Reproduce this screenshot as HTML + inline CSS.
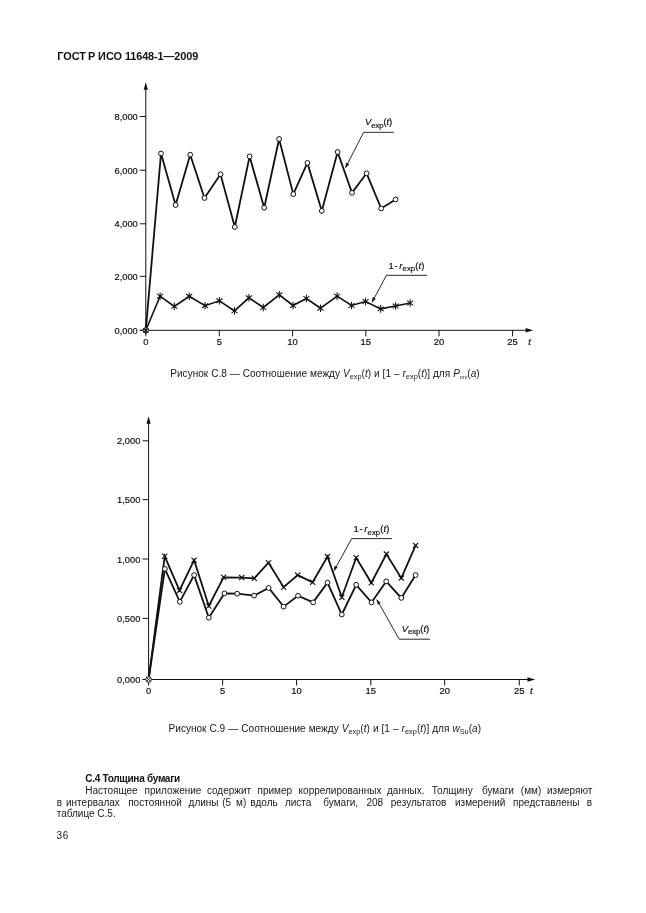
<!DOCTYPE html>
<html><head><meta charset="utf-8"><title>ГОСТ Р ИСО 11648-1—2009</title>
<style>
html,body{margin:0;padding:0;background:#fff;}
body{filter:grayscale(1);}
body{width:646px;height:913px;position:relative;overflow:hidden;font-family:"Liberation Sans",sans-serif;color:#1a1a1a;}
svg{position:absolute;left:0;top:0;}
.t{font-family:"Liberation Sans",sans-serif;font-size:9.6px;fill:#111;stroke:#111;stroke-width:0.2px;}
.i{font-style:italic;}
.s{font-size:7.8px;}
.lb{font-size:9.5px;}
.yl{font-size:9.6px;}
.abs{position:absolute;white-space:nowrap;}
.hdr span{position:absolute;top:0}
.hdr{left:57.2px;top:50.0px;width:200px;height:13px;font-size:10.9px;font-weight:bold;line-height:13px;color:#111;}
.cap{font-size:10.05px;line-height:12px;word-spacing:0.25px;}
.cap sub,.cap .sb{font-size:7.4px;vertical-align:baseline;position:relative;top:2px;}
.cap i{font-style:italic;}
.h4{left:85.2px;top:772.9px;font-size:10px;font-weight:bold;line-height:12px;letter-spacing:-0.27px;color:#111;}
.ln{position:absolute;left:0;width:646px;height:12px;font-size:10px;line-height:12px;white-space:nowrap;}
.ln span{position:absolute;top:0;}
.pn{left:56.6px;top:830.2px;font-size:10px;line-height:12px;letter-spacing:0.6px;}
</style></head><body>
<div class="abs hdr"><span style="left:0">ГОСТ</span><span style="left:30.8px">Р</span><span style="left:40.9px">ИСО</span><span style="left:67.7px;letter-spacing:-0.1px">11648-1—2009</span></div>
<svg width="646" height="913" viewBox="0 0 646 913">
<path d="M145.8 330.3V88" stroke="#111" stroke-width="1.0" fill="none"/>
<path d="M145.8 82.3l-2.1 7.4h4.2z" fill="#111"/>
<path d="M139.8 330.3H527" stroke="#111" stroke-width="1.0" fill="none"/>
<path d="M533.2 330.3l-7.6 -2.2v4.4z" fill="#111"/>
<path d="M139.8 116.5H145.8" stroke="#111" stroke-width="1.0" fill="none"/>
<text x="137.8" y="120.1" text-anchor="end" class="t yl" textLength="23.3" lengthAdjust="spacingAndGlyphs">8,000</text>
<path d="M139.8 170.2H145.8" stroke="#111" stroke-width="1.0" fill="none"/>
<text x="137.8" y="173.8" text-anchor="end" class="t yl" textLength="23.3" lengthAdjust="spacingAndGlyphs">6,000</text>
<path d="M139.8 223.8H145.8" stroke="#111" stroke-width="1.0" fill="none"/>
<text x="137.8" y="227.4" text-anchor="end" class="t yl" textLength="23.3" lengthAdjust="spacingAndGlyphs">4,000</text>
<path d="M139.8 276.3H145.8" stroke="#111" stroke-width="1.0" fill="none"/>
<text x="137.8" y="279.9" text-anchor="end" class="t yl" textLength="23.3" lengthAdjust="spacingAndGlyphs">2,000</text>
<path d="M139.8 330.3H145.8" stroke="#111" stroke-width="1.0" fill="none"/>
<text x="137.8" y="333.9" text-anchor="end" class="t yl" textLength="23.3" lengthAdjust="spacingAndGlyphs">0,000</text>
<path d="M145.8 330.3V336.3" stroke="#111" stroke-width="1.0" fill="none"/>
<text x="145.8" y="345.0" text-anchor="middle" class="t yl" textLength="5.2" lengthAdjust="spacingAndGlyphs">0</text>
<path d="M219.3 330.3V336.3" stroke="#111" stroke-width="1.0" fill="none"/>
<text x="219.3" y="345.0" text-anchor="middle" class="t yl" textLength="5.2" lengthAdjust="spacingAndGlyphs">5</text>
<path d="M292.6 330.3V336.3" stroke="#111" stroke-width="1.0" fill="none"/>
<text x="292.6" y="345.0" text-anchor="middle" class="t yl" textLength="10.5" lengthAdjust="spacingAndGlyphs">10</text>
<path d="M365.8 330.3V336.3" stroke="#111" stroke-width="1.0" fill="none"/>
<text x="365.8" y="345.0" text-anchor="middle" class="t yl" textLength="10.5" lengthAdjust="spacingAndGlyphs">15</text>
<path d="M439.0 330.3V336.3" stroke="#111" stroke-width="1.0" fill="none"/>
<text x="439.0" y="345.0" text-anchor="middle" class="t yl" textLength="10.5" lengthAdjust="spacingAndGlyphs">20</text>
<path d="M512.6 330.3V336.3" stroke="#111" stroke-width="1.0" fill="none"/>
<text x="512.6" y="345.0" text-anchor="middle" class="t yl" textLength="10.5" lengthAdjust="spacingAndGlyphs">25</text>
<text x="529.5" y="345.2" text-anchor="middle" class="t yl i">t</text>
<polyline fill="none" stroke="#111" stroke-width="1.8" stroke-linejoin="miter" points="145.8,330.3 161.0,153.5 175.6,205.0 190.2,154.7 204.5,198.0 220.5,174.3 234.8,227.0 249.6,156.4 264.2,207.7 279.1,139.0 293.3,194.1 307.4,162.9 321.8,210.9 337.6,152.0 352.0,192.8 366.6,173.3 381.2,208.5 395.6,199.5"/>
<circle cx="161.0" cy="153.5" r="2.4" fill="#fff" stroke="#111" stroke-width="1"/><circle cx="175.6" cy="205.0" r="2.4" fill="#fff" stroke="#111" stroke-width="1"/><circle cx="190.2" cy="154.7" r="2.4" fill="#fff" stroke="#111" stroke-width="1"/><circle cx="204.5" cy="198.0" r="2.4" fill="#fff" stroke="#111" stroke-width="1"/><circle cx="220.5" cy="174.3" r="2.4" fill="#fff" stroke="#111" stroke-width="1"/><circle cx="234.8" cy="227.0" r="2.4" fill="#fff" stroke="#111" stroke-width="1"/><circle cx="249.6" cy="156.4" r="2.4" fill="#fff" stroke="#111" stroke-width="1"/><circle cx="264.2" cy="207.7" r="2.4" fill="#fff" stroke="#111" stroke-width="1"/><circle cx="279.1" cy="139.0" r="2.4" fill="#fff" stroke="#111" stroke-width="1"/><circle cx="293.3" cy="194.1" r="2.4" fill="#fff" stroke="#111" stroke-width="1"/><circle cx="307.4" cy="162.9" r="2.4" fill="#fff" stroke="#111" stroke-width="1"/><circle cx="321.8" cy="210.9" r="2.4" fill="#fff" stroke="#111" stroke-width="1"/><circle cx="337.6" cy="152.0" r="2.4" fill="#fff" stroke="#111" stroke-width="1"/><circle cx="352.0" cy="192.8" r="2.4" fill="#fff" stroke="#111" stroke-width="1"/><circle cx="366.6" cy="173.3" r="2.4" fill="#fff" stroke="#111" stroke-width="1"/><circle cx="381.2" cy="208.5" r="2.4" fill="#fff" stroke="#111" stroke-width="1"/><circle cx="395.6" cy="199.5" r="2.4" fill="#fff" stroke="#111" stroke-width="1"/>
<polyline fill="none" stroke="#111" stroke-width="1.6" stroke-linejoin="miter" points="145.8,330.3 160.1,296.2 174.3,306.4 189.2,296.3 205.0,305.7 219.4,300.8 234.5,310.9 248.9,297.8 263.3,307.5 279.3,294.8 293.0,305.5 306.4,298.5 320.5,308.2 337.1,296.1 351.5,305.5 365.6,301.5 380.7,308.9 395.6,306.0 410.2,303.0"/>
<circle cx="145.8" cy="330.3" r="2.7" fill="#fff" stroke="#111" stroke-width="1"/>
<path d="M145.8 326.9V333.7M143.1 328.3L148.5 332.3M143.1 332.3L148.5 328.3" stroke="#111" stroke-width="1.05" fill="none"/>
<path d="M160.1 292.4V300.0M157.1 293.9L163.1 298.5M157.1 298.5L163.1 293.9" stroke="#111" stroke-width="1.05" fill="none"/><path d="M174.3 302.6V310.2M171.3 304.1L177.3 308.7M171.3 308.7L177.3 304.1" stroke="#111" stroke-width="1.05" fill="none"/><path d="M189.2 292.5V300.1M186.2 294.0L192.2 298.6M186.2 298.6L192.2 294.0" stroke="#111" stroke-width="1.05" fill="none"/><path d="M205.0 301.9V309.5M202.0 303.4L208.0 308.0M202.0 308.0L208.0 303.4" stroke="#111" stroke-width="1.05" fill="none"/><path d="M219.4 297.0V304.6M216.4 298.5L222.4 303.1M216.4 303.1L222.4 298.5" stroke="#111" stroke-width="1.05" fill="none"/><path d="M234.5 307.1V314.7M231.5 308.6L237.5 313.2M231.5 313.2L237.5 308.6" stroke="#111" stroke-width="1.05" fill="none"/><path d="M248.9 294.0V301.6M245.9 295.5L251.9 300.1M245.9 300.1L251.9 295.5" stroke="#111" stroke-width="1.05" fill="none"/><path d="M263.3 303.7V311.3M260.3 305.2L266.3 309.8M260.3 309.8L266.3 305.2" stroke="#111" stroke-width="1.05" fill="none"/><path d="M279.3 291.0V298.6M276.3 292.5L282.3 297.1M276.3 297.1L282.3 292.5" stroke="#111" stroke-width="1.05" fill="none"/><path d="M293.0 301.7V309.3M290.0 303.2L296.0 307.8M290.0 307.8L296.0 303.2" stroke="#111" stroke-width="1.05" fill="none"/><path d="M306.4 294.7V302.3M303.4 296.2L309.4 300.8M303.4 300.8L309.4 296.2" stroke="#111" stroke-width="1.05" fill="none"/><path d="M320.5 304.4V312.0M317.5 305.9L323.5 310.5M317.5 310.5L323.5 305.9" stroke="#111" stroke-width="1.05" fill="none"/><path d="M337.1 292.3V299.9M334.1 293.8L340.1 298.4M334.1 298.4L340.1 293.8" stroke="#111" stroke-width="1.05" fill="none"/><path d="M351.5 301.7V309.3M348.5 303.2L354.5 307.8M348.5 307.8L354.5 303.2" stroke="#111" stroke-width="1.05" fill="none"/><path d="M365.6 297.7V305.3M362.6 299.2L368.6 303.8M362.6 303.8L368.6 299.2" stroke="#111" stroke-width="1.05" fill="none"/><path d="M380.7 305.1V312.7M377.7 306.6L383.7 311.2M377.7 311.2L383.7 306.6" stroke="#111" stroke-width="1.05" fill="none"/><path d="M395.6 302.2V309.8M392.6 303.7L398.6 308.3M392.6 308.3L398.6 303.7" stroke="#111" stroke-width="1.05" fill="none"/><path d="M410.2 299.2V306.8M407.2 300.7L413.2 305.3M407.2 305.3L413.2 300.7" stroke="#111" stroke-width="1.05" fill="none"/>
<path d="M393.8 132.3H363.6L345.8 167.2" stroke="#111" stroke-width="0.9" fill="none"/>
<path d="M345.2 168.4l0.9 -5.6 3 1.5z" fill="#111"/>
<text x="364.9" y="125.4" class="t lb" textLength="27.3"><tspan class="i">V</tspan><tspan class="s" dy="2.6">exp</tspan><tspan dy="-2.6">(</tspan><tspan class="i">t</tspan>)</text>
<path d="M427 275.3H386.4L372.5 301.4" stroke="#111" stroke-width="0.9" fill="none"/>
<path d="M371.7 302.9l1 -5.8 3 1.6z" fill="#111"/>
<text x="388.6" y="268.7" class="t lb" textLength="35.8">1<tspan dx="0.5">-</tspan><tspan class="i" dx="1.5">r</tspan><tspan class="s" dy="2.6">exp</tspan><tspan dy="-2.6">(</tspan><tspan class="i">t</tspan>)</text>
<path d="M148.6 679.5V422" stroke="#111" stroke-width="1.0" fill="none"/>
<path d="M148.6 416.3l-2.1 7.4h4.2z" fill="#111"/>
<path d="M142.6 679.5H528" stroke="#111" stroke-width="1.0" fill="none"/>
<path d="M535.3 679.5l-7.8 -2.2v4.4z" fill="#111"/>
<path d="M142.6 440.8H148.6" stroke="#111" stroke-width="1.0" fill="none"/>
<text x="140.4" y="444.4" text-anchor="end" class="t yl" textLength="23.3" lengthAdjust="spacingAndGlyphs">2,000</text>
<path d="M142.6 499.6H148.6" stroke="#111" stroke-width="1.0" fill="none"/>
<text x="140.4" y="503.2" text-anchor="end" class="t yl" textLength="23.3" lengthAdjust="spacingAndGlyphs">1,500</text>
<path d="M142.6 559.0H148.6" stroke="#111" stroke-width="1.0" fill="none"/>
<text x="140.4" y="562.6" text-anchor="end" class="t yl" textLength="23.3" lengthAdjust="spacingAndGlyphs">1,000</text>
<path d="M142.6 618.4H148.6" stroke="#111" stroke-width="1.0" fill="none"/>
<text x="140.4" y="622.0" text-anchor="end" class="t yl" textLength="23.3" lengthAdjust="spacingAndGlyphs">0,500</text>
<path d="M142.6 679.5H148.6" stroke="#111" stroke-width="1.0" fill="none"/>
<text x="140.4" y="683.1" text-anchor="end" class="t yl" textLength="23.3" lengthAdjust="spacingAndGlyphs">0,000</text>
<path d="M148.6 679.5V685.5" stroke="#111" stroke-width="1.0" fill="none"/>
<text x="148.6" y="694.0" text-anchor="middle" class="t yl" textLength="5.2" lengthAdjust="spacingAndGlyphs">0</text>
<path d="M222.6 679.5V685.5" stroke="#111" stroke-width="1.0" fill="none"/>
<text x="222.6" y="694.0" text-anchor="middle" class="t yl" textLength="5.2" lengthAdjust="spacingAndGlyphs">5</text>
<path d="M296.6 679.5V685.5" stroke="#111" stroke-width="1.0" fill="none"/>
<text x="296.6" y="694.0" text-anchor="middle" class="t yl" textLength="10.5" lengthAdjust="spacingAndGlyphs">10</text>
<path d="M370.8 679.5V685.5" stroke="#111" stroke-width="1.0" fill="none"/>
<text x="370.8" y="694.0" text-anchor="middle" class="t yl" textLength="10.5" lengthAdjust="spacingAndGlyphs">15</text>
<path d="M444.7 679.5V685.5" stroke="#111" stroke-width="1.0" fill="none"/>
<text x="444.7" y="694.0" text-anchor="middle" class="t yl" textLength="10.5" lengthAdjust="spacingAndGlyphs">20</text>
<path d="M519.3 679.5V685.5" stroke="#111" stroke-width="1.0" fill="none"/>
<text x="519.3" y="694.0" text-anchor="middle" class="t yl" textLength="10.5" lengthAdjust="spacingAndGlyphs">25</text>
<text x="531.4" y="694.2" text-anchor="middle" class="t yl i">t</text>
<polyline fill="none" stroke="#111" stroke-width="1.8" stroke-linejoin="miter" points="148.6,679.5 164.7,556.3 179.5,590.4 194.1,560.2 208.8,606.0 223.6,577.3 241.7,577.6 254.3,578.3 268.5,562.7 283.6,587.2 297.7,575.1 312.6,582.3 327.5,556.6 341.8,597.2 356.2,557.8 371.3,582.8 386.4,554.1 401.3,578.1 415.6,545.4"/>
<polyline fill="none" stroke="#111" stroke-width="1.8" stroke-linejoin="miter" points="148.6,679.5 164.9,568.9 179.8,601.8 194.1,575.1 208.8,617.7 224.4,593.4 237.2,593.7 254.1,595.6 268.7,588.0 283.6,606.6 298.0,595.7 313.1,602.4 327.5,582.6 341.8,614.5 356.2,584.8 371.5,602.4 386.2,581.4 401.3,597.9 415.6,575.1"/>
<path d="M162.1 553.7L167.3 558.9M162.1 558.9L167.3 553.7" stroke="#111" stroke-width="1.1" fill="none"/><path d="M176.9 587.8L182.1 593.0M176.9 593.0L182.1 587.8" stroke="#111" stroke-width="1.1" fill="none"/><path d="M191.5 557.6L196.7 562.8M191.5 562.8L196.7 557.6" stroke="#111" stroke-width="1.1" fill="none"/><path d="M206.2 603.4L211.4 608.6M206.2 608.6L211.4 603.4" stroke="#111" stroke-width="1.1" fill="none"/><path d="M221.0 574.7L226.2 579.9M221.0 579.9L226.2 574.7" stroke="#111" stroke-width="1.1" fill="none"/><path d="M239.1 575.0L244.3 580.2M239.1 580.2L244.3 575.0" stroke="#111" stroke-width="1.1" fill="none"/><path d="M251.7 575.7L256.9 580.9M251.7 580.9L256.9 575.7" stroke="#111" stroke-width="1.1" fill="none"/><path d="M265.9 560.1L271.1 565.3M265.9 565.3L271.1 560.1" stroke="#111" stroke-width="1.1" fill="none"/><path d="M281.0 584.6L286.2 589.8M281.0 589.8L286.2 584.6" stroke="#111" stroke-width="1.1" fill="none"/><path d="M295.1 572.5L300.3 577.7M295.1 577.7L300.3 572.5" stroke="#111" stroke-width="1.1" fill="none"/><path d="M310.0 579.7L315.2 584.9M310.0 584.9L315.2 579.7" stroke="#111" stroke-width="1.1" fill="none"/><path d="M324.9 554.0L330.1 559.2M324.9 559.2L330.1 554.0" stroke="#111" stroke-width="1.1" fill="none"/><path d="M339.2 594.6L344.4 599.8M339.2 599.8L344.4 594.6" stroke="#111" stroke-width="1.1" fill="none"/><path d="M353.6 555.2L358.8 560.4M353.6 560.4L358.8 555.2" stroke="#111" stroke-width="1.1" fill="none"/><path d="M368.7 580.2L373.9 585.4M368.7 585.4L373.9 580.2" stroke="#111" stroke-width="1.1" fill="none"/><path d="M383.8 551.5L389.0 556.7M383.8 556.7L389.0 551.5" stroke="#111" stroke-width="1.1" fill="none"/><path d="M398.7 575.5L403.9 580.7M398.7 580.7L403.9 575.5" stroke="#111" stroke-width="1.1" fill="none"/><path d="M413.0 542.8L418.2 548.0M413.0 548.0L418.2 542.8" stroke="#111" stroke-width="1.1" fill="none"/>
<circle cx="164.9" cy="568.9" r="2.4" fill="#fff" stroke="#111" stroke-width="1"/><circle cx="179.8" cy="601.8" r="2.4" fill="#fff" stroke="#111" stroke-width="1"/><circle cx="194.1" cy="575.1" r="2.4" fill="#fff" stroke="#111" stroke-width="1"/><circle cx="208.8" cy="617.7" r="2.4" fill="#fff" stroke="#111" stroke-width="1"/><circle cx="224.4" cy="593.4" r="2.4" fill="#fff" stroke="#111" stroke-width="1"/><circle cx="237.2" cy="593.7" r="2.4" fill="#fff" stroke="#111" stroke-width="1"/><circle cx="254.1" cy="595.6" r="2.4" fill="#fff" stroke="#111" stroke-width="1"/><circle cx="268.7" cy="588.0" r="2.4" fill="#fff" stroke="#111" stroke-width="1"/><circle cx="283.6" cy="606.6" r="2.4" fill="#fff" stroke="#111" stroke-width="1"/><circle cx="298.0" cy="595.7" r="2.4" fill="#fff" stroke="#111" stroke-width="1"/><circle cx="313.1" cy="602.4" r="2.4" fill="#fff" stroke="#111" stroke-width="1"/><circle cx="327.5" cy="582.6" r="2.4" fill="#fff" stroke="#111" stroke-width="1"/><circle cx="341.8" cy="614.5" r="2.4" fill="#fff" stroke="#111" stroke-width="1"/><circle cx="356.2" cy="584.8" r="2.4" fill="#fff" stroke="#111" stroke-width="1"/><circle cx="371.5" cy="602.4" r="2.4" fill="#fff" stroke="#111" stroke-width="1"/><circle cx="386.2" cy="581.4" r="2.4" fill="#fff" stroke="#111" stroke-width="1"/><circle cx="401.3" cy="597.9" r="2.4" fill="#fff" stroke="#111" stroke-width="1"/><circle cx="415.6" cy="575.1" r="2.4" fill="#fff" stroke="#111" stroke-width="1"/>
<circle cx="148.6" cy="679.5" r="2.8" fill="#fff" stroke="#111" stroke-width="1"/><path d="M146.7 677.6L150.5 681.4M146.7 681.4L150.5 677.6" stroke="#111" stroke-width="0.9" fill="none"/>
<path d="M391.9 538.6H351.7L334.3 570.2" stroke="#111" stroke-width="0.9" fill="none"/>
<path d="M333.6 571.5l1 -5.8 3 1.6z" fill="#111"/>
<text x="353.6" y="532.0" class="t lb" textLength="35.8">1<tspan dx="0.5">-</tspan><tspan class="i" dx="1.5">r</tspan><tspan class="s" dy="2.6">exp</tspan><tspan dy="-2.6">(</tspan><tspan class="i">t</tspan>)</text>
<path d="M430.1 639.2H399.2L377.4 600.6" stroke="#111" stroke-width="0.9" fill="none"/>
<path d="M376.4 598.9L380.7 603.1L377.8 604.8z" fill="#111"/>
<text x="401.8" y="631.8" class="t lb" textLength="27.3"><tspan class="i">V</tspan><tspan class="s" dy="2.6">exp</tspan><tspan dy="-2.6">(</tspan><tspan class="i">t</tspan>)</text>
</svg>
<div class="abs cap" id="cap1" style="left:170.3px;top:368.35px;word-spacing:0.16px;">Рисунок С.8 — Соотношение между <i>V</i><span class="sb">exp</span>(<i>t</i>) и [1 – <i>r</i><span class="sb">exp</span>(<i>t</i>)] для <i>P</i><span class="sb" style="font-size:5.6px">mv</span>(<i>a</i>)</div>
<div class="abs cap" id="cap2" style="left:168.6px;top:723.2px;">Рисунок С.9 — Соотношение между <i>V</i><span class="sb">exp</span>(<i>t</i>) и [1 – <i>r</i><span class="sb">exp</span>(<i>t</i>)] для <i>w</i><span class="sb">Su</span>(<i>a</i>)</div>
<div class="abs h4">С.4 Толщина бумаги</div>
<div class="ln" style="top:784.9px"><span style="left:85.2px">Настоящее</span><span style="left:144.5px">приложение</span><span style="left:206.9px">содержит</span><span style="left:257.5px">пример</span><span style="left:298.6px">коррелированных</span><span style="left:387.0px">данных.</span><span style="left:431.8px">Толщину</span><span style="left:481.9px">бумаги</span><span style="left:520.8px">(мм)</span><span style="left:547.0px">измеряют</span></div>
<div class="ln" style="top:796.5px"><span style="left:56.7px">в</span><span style="left:66.0px">интервалах</span><span style="left:128.2px">постоянной</span><span style="left:188.6px">длины</span><span style="left:222.2px">(5</span><span style="left:236.0px">м)</span><span style="left:250.3px">вдоль</span><span style="left:284.9px">листа</span><span style="left:323.3px">бумаги,</span><span style="left:366.5px">208</span><span style="left:390.8px">результатов</span><span style="left:455.0px">измерений</span><span style="left:513.1px">представлены</span><span style="left:586.8px">в</span></div>
<div class="ln" style="top:808.0px"><span style="left:56.7px">таблице С.5.</span></div>
<div class="abs pn">36</div>
</body></html>
